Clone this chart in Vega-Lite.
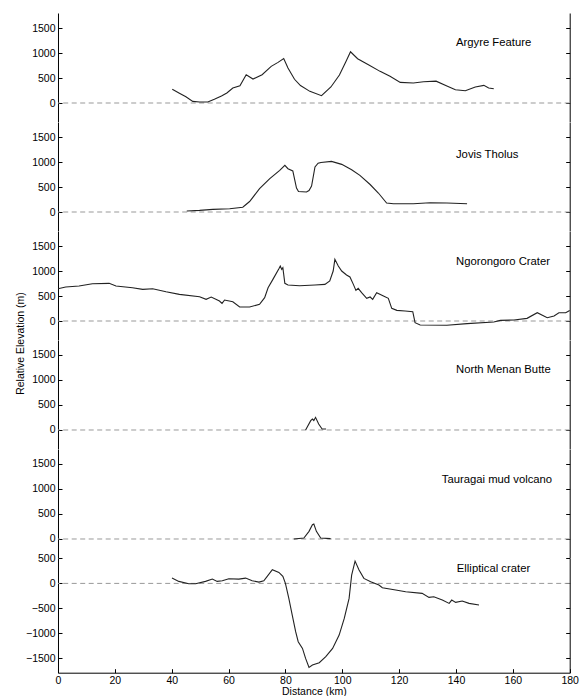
{
"$schema": "https://vega.github.io/schema/vega-lite/v6.json",
"padding": {"left": 16, "top": 13, "right": 5, "bottom": 5},
"background": "white",
"config": {
 "view": {"stroke": null},
 "axis": {"domainColor": "#000", "tickColor": "#000", "labelColor": "#000", "labelFont": "Liberation Sans", "labelFontSize": 10.5, "titleFont": "Liberation Sans", "titleFontSize": 10.5, "titleFontWeight": "normal", "titleColor": "#000", "grid": false, "tickSize": 4, "domainWidth": 1, "tickWidth": 1, "format": "d"}
},
"resolve": {"scale": {"x": "independent", "y": "independent"}, "axis": {"x": "independent", "y": "independent"}},
"datasets": {
 "profiles": [
  {"p":"A","d":40.2,"e":275},{"p":"A","d":42.7,"e":195},{"p":"A","d":45,"e":125},{"p":"A","d":47.4,"e":33},{"p":"A","d":49.8,"e":20},{"p":"A","d":52.7,"e":20},{"p":"A","d":55,"e":75},{"p":"A","d":57.5,"e":140},{"p":"A","d":59.4,"e":200},{"p":"A","d":61.5,"e":300},{"p":"A","d":64,"e":346},{"p":"A","d":66.2,"e":566},{"p":"A","d":68.6,"e":480},{"p":"A","d":71.8,"e":566},{"p":"A","d":75,"e":733},{"p":"A","d":77.4,"e":813},{"p":"A","d":79.4,"e":890},{"p":"A","d":80.9,"e":700},{"p":"A","d":83.2,"e":475},{"p":"A","d":85.3,"e":350},{"p":"A","d":88.6,"e":233},{"p":"A","d":92.7,"e":146},{"p":"A","d":96,"e":320},{"p":"A","d":99,"e":560},{"p":"A","d":101.3,"e":830},{"p":"A","d":102.9,"e":1025},{"p":"A","d":105.4,"e":885},{"p":"A","d":109.2,"e":766},{"p":"A","d":113.3,"e":633},{"p":"A","d":116.8,"e":533},{"p":"A","d":120.4,"e":413},{"p":"A","d":125,"e":400},{"p":"A","d":128.6,"e":426},{"p":"A","d":133,"e":437},{"p":"A","d":136.8,"e":340},{"p":"A","d":139.8,"e":266},{"p":"A","d":143.3,"e":246},{"p":"A","d":146.8,"e":320},{"p":"A","d":149.8,"e":353},{"p":"A","d":151.5,"e":300},{"p":"A","d":153.3,"e":286},
  {"p":"J","d":45.3,"e":20},{"p":"J","d":49.8,"e":33},{"p":"J","d":54.5,"e":53},{"p":"J","d":60.4,"e":66},{"p":"J","d":65,"e":95},{"p":"J","d":67.4,"e":210},{"p":"J","d":70.9,"e":466},{"p":"J","d":74.5,"e":666},{"p":"J","d":78,"e":833},{"p":"J","d":79.8,"e":933},{"p":"J","d":80.9,"e":866},{"p":"J","d":82.6,"e":820},{"p":"J","d":83.9,"e":480},{"p":"J","d":84.6,"e":410},{"p":"J","d":87.4,"e":400},{"p":"J","d":88.3,"e":430},{"p":"J","d":89.2,"e":520},{"p":"J","d":90.4,"e":900},{"p":"J","d":91.5,"e":975},{"p":"J","d":92.5,"e":990},{"p":"J","d":96.2,"e":1013},{"p":"J","d":99.8,"e":953},{"p":"J","d":103.3,"e":846},{"p":"J","d":106.2,"e":733},{"p":"J","d":109.8,"e":550},{"p":"J","d":112.7,"e":380},{"p":"J","d":115.6,"e":180},{"p":"J","d":118,"e":166},{"p":"J","d":125,"e":166},{"p":"J","d":130.9,"e":186},{"p":"J","d":136.8,"e":180},{"p":"J","d":143.9,"e":166},
  {"p":"N","d":0,"e":646},{"p":"N","d":2.7,"e":680},{"p":"N","d":7.4,"e":700},{"p":"N","d":12.1,"e":746},{"p":"N","d":18,"e":753},{"p":"N","d":20.4,"e":700},{"p":"N","d":26.2,"e":666},{"p":"N","d":29.8,"e":633},{"p":"N","d":33.3,"e":646},{"p":"N","d":38,"e":586},{"p":"N","d":42.7,"e":533},{"p":"N","d":49.8,"e":486},{"p":"N","d":52.1,"e":433},{"p":"N","d":53.9,"e":480},{"p":"N","d":56.8,"e":400},{"p":"N","d":57.7,"e":353},{"p":"N","d":58.6,"e":420},{"p":"N","d":61.5,"e":386},{"p":"N","d":63.9,"e":280},{"p":"N","d":67.4,"e":280},{"p":"N","d":70.9,"e":333},{"p":"N","d":72.7,"e":466},{"p":"N","d":73.9,"e":666},{"p":"N","d":75.6,"e":833},{"p":"N","d":77.8,"e":1053},{"p":"N","d":78.2,"e":1100},{"p":"N","d":78.7,"e":1033},{"p":"N","d":79.1,"e":1066},{"p":"N","d":79.8,"e":753},{"p":"N","d":80.9,"e":720},{"p":"N","d":85,"e":706},{"p":"N","d":90.4,"e":720},{"p":"N","d":93.9,"e":733},{"p":"N","d":95.6,"e":800},{"p":"N","d":96.8,"e":1000},{"p":"N","d":97.4,"e":1233},{"p":"N","d":98.6,"e":1100},{"p":"N","d":99.8,"e":1000},{"p":"N","d":101.5,"e":920},{"p":"N","d":102.7,"e":880},{"p":"N","d":103.9,"e":733},{"p":"N","d":104.8,"e":613},{"p":"N","d":105.6,"e":653},{"p":"N","d":106.8,"e":566},{"p":"N","d":108.6,"e":453},{"p":"N","d":109.8,"e":480},{"p":"N","d":110.7,"e":433},{"p":"N","d":112.1,"e":566},{"p":"N","d":114.5,"e":500},{"p":"N","d":116.2,"e":453},{"p":"N","d":117.4,"e":253},{"p":"N","d":119.2,"e":213},{"p":"N","d":122.1,"e":200},{"p":"N","d":124.8,"e":186},{"p":"N","d":125.6,"e":-33},{"p":"N","d":127.4,"e":-80},{"p":"N","d":136.8,"e":-86},{"p":"N","d":143.9,"e":-53},{"p":"N","d":153.3,"e":-20},{"p":"N","d":155.6,"e":13},{"p":"N","d":160.4,"e":20},{"p":"N","d":165,"e":53},{"p":"N","d":168.6,"e":166},{"p":"N","d":172.1,"e":66},{"p":"N","d":174.5,"e":100},{"p":"N","d":176.2,"e":166},{"p":"N","d":178.6,"e":166},{"p":"N","d":180,"e":210},
  {"p":"M","d":87.1,"e":0},{"p":"M","d":88.9,"e":186},{"p":"M","d":89.5,"e":220},{"p":"M","d":90,"e":190},{"p":"M","d":90.6,"e":253},{"p":"M","d":91.7,"e":120},{"p":"M","d":92.9,"e":20},{"p":"M","d":94.3,"e":20},
  {"p":"T","d":83,"e":0},{"p":"T","d":86.5,"e":20},{"p":"T","d":88.3,"e":153},{"p":"T","d":89.5,"e":286},{"p":"T","d":90,"e":300},{"p":"T","d":90.9,"e":153},{"p":"T","d":92.4,"e":20},{"p":"T","d":95.9,"e":8},
  {"p":"E","d":40.1,"e":106},{"p":"E","d":42.5,"e":40},{"p":"E","d":46,"e":-6},{"p":"E","d":48.4,"e":-6},{"p":"E","d":51.9,"e":40},{"p":"E","d":54.3,"e":86},{"p":"E","d":56,"e":40},{"p":"E","d":57.8,"e":53},{"p":"E","d":60.1,"e":93},{"p":"E","d":63.6,"e":86},{"p":"E","d":66,"e":106},{"p":"E","d":68.3,"e":53},{"p":"E","d":70.7,"e":26},{"p":"E","d":72.4,"e":53},{"p":"E","d":73.6,"e":140},{"p":"E","d":75.4,"e":273},{"p":"E","d":77.7,"e":220},{"p":"E","d":79.1,"e":140},{"p":"E","d":80,"e":0},{"p":"E","d":81.2,"e":-300},{"p":"E","d":82.4,"e":-633},{"p":"E","d":83.6,"e":-966},{"p":"E","d":84.5,"e":-1166},{"p":"E","d":86,"e":-1300},{"p":"E","d":87.1,"e":-1500},{"p":"E","d":88.3,"e":-1680},{"p":"E","d":89.5,"e":-1633},{"p":"E","d":91.9,"e":-1586},{"p":"E","d":94.2,"e":-1466},{"p":"E","d":96.6,"e":-1300},{"p":"E","d":98.9,"e":-1033},{"p":"E","d":100.7,"e":-700},{"p":"E","d":102.4,"e":-300},{"p":"E","d":103.3,"e":166},{"p":"E","d":104.5,"e":446},{"p":"E","d":105.9,"e":266},{"p":"E","d":107.6,"e":100},{"p":"E","d":110,"e":33},{"p":"E","d":112.9,"e":-33},{"p":"E","d":114.1,"e":-86},{"p":"E","d":118.8,"e":-133},{"p":"E","d":122.3,"e":-166},{"p":"E","d":128.1,"e":-200},{"p":"E","d":130.5,"e":-280},{"p":"E","d":132.2,"e":-266},{"p":"E","d":135.2,"e":-333},{"p":"E","d":137.6,"e":-400},{"p":"E","d":138.5,"e":-333},{"p":"E","d":139.9,"e":-380},{"p":"E","d":142.2,"e":-353},{"p":"E","d":144.6,"e":-400},{"p":"E","d":148.1,"e":-433}
 ],
 "labels": [
  {"p":"A","label":"Argyre Feature","lx":140,"ly":1200},
  {"p":"J","label":"Jovis Tholus","lx":140,"ly":1150},
  {"p":"N","label":"Ngorongoro Crater","lx":140,"ly":1190},
  {"p":"M","label":"North Menan Butte","lx":140,"ly":1190},
  {"p":"T","label":"Tauragai mud volcano","lx":135,"ly":1170},
  {"p":"E","label":"Elliptical crater","lx":140.3,"ly":290}
 ],
 "zero": [{"z": 0}]
},
"vconcat": [
 {"width": 511.7, "height": 108.6,
  "layer": [
   {"data": {"name": "zero"}, "mark": {"type": "rule", "color": "#999", "strokeDash": [5, 3.5], "strokeWidth": 1},
    "encoding": {"y": {"field": "z", "type": "quantitative", "scale": {"domain": [-372, 1800], "nice": false, "zero": false}, "axis": {"orient": "right", "offset": -511.7, "domain": false, "labels": false, "title": null, "values": [0, 500, 1000, 1500]}}}},
   {"data": {"name": "profiles"}, "transform": [{"filter": "datum.p === 'A'"}],
    "mark": {"type": "line", "color": "#222", "strokeWidth": 1.1},
    "encoding": {"x": {"field": "d", "type": "quantitative", "scale": {"domain": [0, 180], "nice": false}, "axis": {"orient": "bottom", "offset": -108.6, "labels": false, "title": null, "values": [0,20,40,60,80,100,120,140,160,180]}},
     "y": {"field": "e", "type": "quantitative", "scale": {"domain": [-372, 1800], "nice": false, "zero": false}, "axis": {"orient": "left", "ticks": false, "labelPadding": 3, "title": null, "values": [0, 500, 1000, 1500]}}}},
   {"data": {"name": "labels"}, "transform": [{"filter": "datum.p === 'A'"}],
    "mark": {"type": "text", "align": "left", "baseline": "middle", "font": "Liberation Sans", "fontSize": 11.3, "color": "#000"},
    "encoding": {"x": {"field": "lx", "type": "quantitative", "scale": {"domain": [0, 180], "nice": false}, "axis": null},
     "y": {"field": "ly", "type": "quantitative", "scale": {"domain": [-372, 1800], "nice": false, "zero": false}, "axis": {"orient": "left", "offset": -511.7, "labels": false, "title": null, "values": [0, 500, 1000, 1500]}},
     "text": {"field": "label"}}}
  ]},
 {"width": 511.7, "height": 108.6,
  "layer": [
   {"data": {"name": "zero"}, "mark": {"type": "rule", "color": "#999", "strokeDash": [5, 3.5], "strokeWidth": 1},
    "encoding": {"y": {"field": "z", "type": "quantitative", "scale": {"domain": [-372, 1800], "nice": false, "zero": false}, "axis": {"orient": "right", "offset": -511.7, "domain": false, "labels": false, "title": null, "values": [0, 500, 1000, 1500]}}}},
   {"data": {"name": "profiles"}, "transform": [{"filter": "datum.p === 'J'"}],
    "mark": {"type": "line", "color": "#222", "strokeWidth": 1.1},
    "encoding": {"x": {"field": "d", "type": "quantitative", "scale": {"domain": [0, 180], "nice": false}, "axis": null},
     "y": {"field": "e", "type": "quantitative", "scale": {"domain": [-372, 1800], "nice": false, "zero": false}, "axis": {"orient": "left", "ticks": false, "labelPadding": 3, "title": null, "values": [0, 500, 1000, 1500]}}}},
   {"data": {"name": "labels"}, "transform": [{"filter": "datum.p === 'J'"}],
    "mark": {"type": "text", "align": "left", "baseline": "middle", "font": "Liberation Sans", "fontSize": 11.3, "color": "#000"},
    "encoding": {"x": {"field": "lx", "type": "quantitative", "scale": {"domain": [0, 180], "nice": false}, "axis": null},
     "y": {"field": "ly", "type": "quantitative", "scale": {"domain": [-372, 1800], "nice": false, "zero": false}, "axis": {"orient": "left", "offset": -511.7, "labels": false, "title": null, "values": [0, 500, 1000, 1500]}},
     "text": {"field": "label"}}}
  ]},
 {"width": 511.7, "height": 108.6,
  "layer": [
   {"data": {"name": "zero"}, "mark": {"type": "rule", "color": "#999", "strokeDash": [5, 3.5], "strokeWidth": 1},
    "encoding": {"y": {"field": "z", "type": "quantitative", "scale": {"domain": [-372, 1800], "nice": false, "zero": false}, "axis": {"orient": "right", "offset": -511.7, "domain": false, "labels": false, "title": null, "values": [0, 500, 1000, 1500]}}}},
   {"data": {"name": "profiles"}, "transform": [{"filter": "datum.p === 'N'"}],
    "mark": {"type": "line", "color": "#222", "strokeWidth": 1.1},
    "encoding": {"x": {"field": "d", "type": "quantitative", "scale": {"domain": [0, 180], "nice": false}, "axis": null},
     "y": {"field": "e", "type": "quantitative", "scale": {"domain": [-372, 1800], "nice": false, "zero": false}, "axis": {"orient": "left", "ticks": false, "labelPadding": 3, "title": "Relative Elevation (m)", "titleY": 112, "titleX": -32, "titleAngle": -90, "titleBaseline": "bottom", "titleAlign": "center", "values": [0, 500, 1000, 1500]}}}},
   {"data": {"name": "labels"}, "transform": [{"filter": "datum.p === 'N'"}],
    "mark": {"type": "text", "align": "left", "baseline": "middle", "font": "Liberation Sans", "fontSize": 11.3, "color": "#000"},
    "encoding": {"x": {"field": "lx", "type": "quantitative", "scale": {"domain": [0, 180], "nice": false}, "axis": null},
     "y": {"field": "ly", "type": "quantitative", "scale": {"domain": [-372, 1800], "nice": false, "zero": false}, "axis": {"orient": "left", "offset": -511.7, "labels": false, "title": null, "values": [0, 500, 1000, 1500]}},
     "text": {"field": "label"}}}
  ]},
 {"width": 511.7, "height": 108.6,
  "layer": [
   {"data": {"name": "zero"}, "mark": {"type": "rule", "color": "#999", "strokeDash": [5, 3.5], "strokeWidth": 1},
    "encoding": {"y": {"field": "z", "type": "quantitative", "scale": {"domain": [-372, 1800], "nice": false, "zero": false}, "axis": {"orient": "right", "offset": -511.7, "domain": false, "labels": false, "title": null, "values": [0, 500, 1000, 1500]}}}},
   {"data": {"name": "profiles"}, "transform": [{"filter": "datum.p === 'M'"}],
    "mark": {"type": "line", "color": "#222", "strokeWidth": 1.1},
    "encoding": {"x": {"field": "d", "type": "quantitative", "scale": {"domain": [0, 180], "nice": false}, "axis": null},
     "y": {"field": "e", "type": "quantitative", "scale": {"domain": [-372, 1800], "nice": false, "zero": false}, "axis": {"orient": "left", "ticks": false, "labelPadding": 3, "title": null, "values": [0, 500, 1000, 1500]}}}},
   {"data": {"name": "labels"}, "transform": [{"filter": "datum.p === 'M'"}],
    "mark": {"type": "text", "align": "left", "baseline": "middle", "font": "Liberation Sans", "fontSize": 11.3, "color": "#000"},
    "encoding": {"x": {"field": "lx", "type": "quantitative", "scale": {"domain": [0, 180], "nice": false}, "axis": null},
     "y": {"field": "ly", "type": "quantitative", "scale": {"domain": [-372, 1800], "nice": false, "zero": false}, "axis": {"orient": "left", "offset": -511.7, "labels": false, "title": null, "values": [0, 500, 1000, 1500]}},
     "text": {"field": "label"}}}
  ]},
 {"width": 511.7, "height": 108.6,
  "layer": [
   {"data": {"name": "zero"}, "mark": {"type": "rule", "color": "#999", "strokeDash": [5, 3.5], "strokeWidth": 1},
    "encoding": {"y": {"field": "z", "type": "quantitative", "scale": {"domain": [-372, 1800], "nice": false, "zero": false}, "axis": {"orient": "right", "offset": -511.7, "domain": false, "labels": false, "title": null, "values": [0, 500, 1000, 1500]}}}},
   {"data": {"name": "profiles"}, "transform": [{"filter": "datum.p === 'T'"}],
    "mark": {"type": "line", "color": "#222", "strokeWidth": 1.1},
    "encoding": {"x": {"field": "d", "type": "quantitative", "scale": {"domain": [0, 180], "nice": false}, "axis": null},
     "y": {"field": "e", "type": "quantitative", "scale": {"domain": [-372, 1800], "nice": false, "zero": false}, "axis": {"orient": "left", "ticks": false, "labelPadding": 3, "title": null, "values": [0, 500, 1000, 1500]}}}},
   {"data": {"name": "labels"}, "transform": [{"filter": "datum.p === 'T'"}],
    "mark": {"type": "text", "align": "left", "baseline": "middle", "font": "Liberation Sans", "fontSize": 11.3, "color": "#000"},
    "encoding": {"x": {"field": "lx", "type": "quantitative", "scale": {"domain": [0, 180], "nice": false}, "axis": null},
     "y": {"field": "ly", "type": "quantitative", "scale": {"domain": [-372, 1800], "nice": false, "zero": false}, "axis": {"orient": "left", "offset": -511.7, "labels": false, "title": null, "values": [0, 500, 1000, 1500]}},
     "text": {"field": "label"}}}
  ]},
 {"width": 511.7, "height": 114.7,
  "layer": [
   {"data": {"name": "zero"}, "mark": {"type": "rule", "color": "#999", "strokeDash": [5, 3.5], "strokeWidth": 1},
    "encoding": {"y": {"field": "z", "type": "quantitative", "scale": {"domain": [-1786, 508], "nice": false, "zero": false}, "axis": {"orient": "right", "offset": -511.7, "domain": false, "labels": false, "title": null, "values": [-1500, -1000, -500, 0, 500]}}}},
   {"data": {"name": "profiles"}, "transform": [{"filter": "datum.p === 'E'"}],
    "mark": {"type": "line", "color": "#222", "strokeWidth": 1.1},
    "encoding": {"x": {"field": "d", "type": "quantitative", "scale": {"domain": [0, 180], "nice": false}, "axis": {"orient": "bottom", "ticks": false, "labelPadding": 3, "title": "Distance (km)", "titlePadding": 0, "values": [0,20,40,60,80,100,120,140,160,180], "labelFlush": false}},
     "y": {"field": "e", "type": "quantitative", "scale": {"domain": [-1786, 508], "nice": false, "zero": false}, "axis": {"orient": "left", "ticks": false, "labelPadding": 3, "title": null, "values": [-1500, -1000, -500, 0, 500], "labelExpr": "replace(format(datum.value, 'd'), '-', '\u2212')"}}}},
   {"data": {"name": "labels"}, "transform": [{"filter": "datum.p === 'E'"}],
    "mark": {"type": "text", "align": "left", "baseline": "middle", "font": "Liberation Sans", "fontSize": 11.3, "color": "#000"},
    "encoding": {"x": {"field": "lx", "type": "quantitative", "scale": {"domain": [0, 180], "nice": false}, "axis": {"orient": "top", "offset": -114.7, "domain": false, "labels": false, "title": null, "values": [0,20,40,60,80,100,120,140,160,180]}},
     "y": {"field": "ly", "type": "quantitative", "scale": {"domain": [-1786, 508], "nice": false, "zero": false}, "axis": {"orient": "left", "offset": -511.7, "labels": false, "title": null, "values": [-1500, -1000, -500, 0, 500]}},
     "text": {"field": "label"}}}
  ]}
],
"spacing": 0,
"bounds": "flush"
}
